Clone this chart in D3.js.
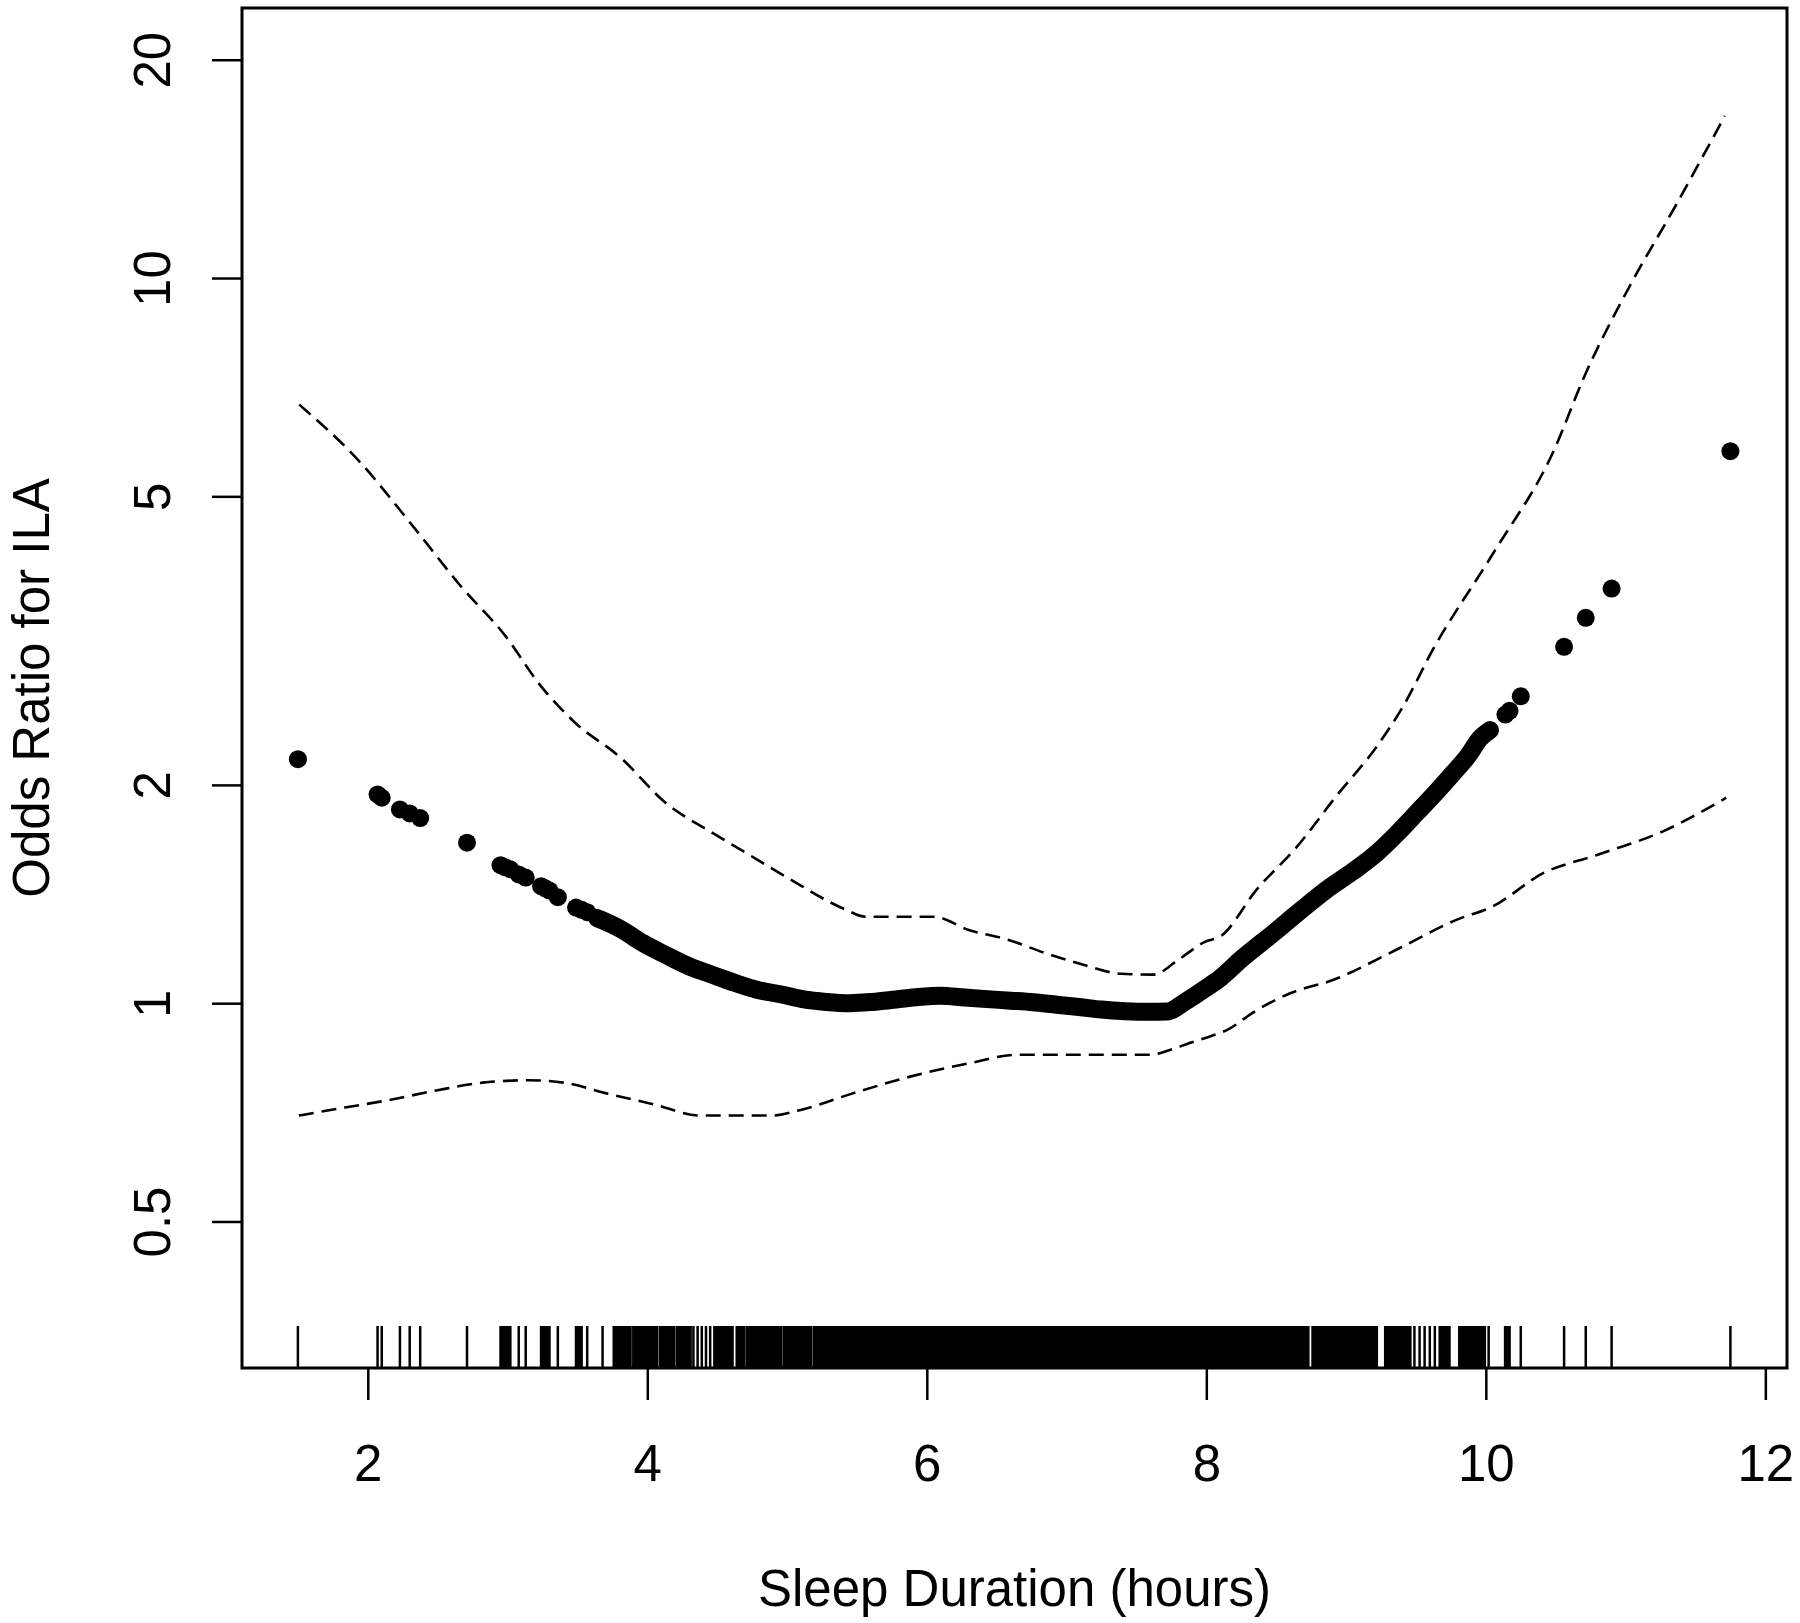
<!DOCTYPE html>
<html>
<head>
<meta charset="utf-8">
<script src="https://cdn.jsdelivr.net/npm/d3@7"></script>
<style>
  body { margin: 0; background: #fff; }
  svg { display: block; font-family: "Liberation Sans", Arial, sans-serif; }
</style>
</head>
<body>
<div class="chart"></div>
<script>
// chart size and plot box
const width = 1800;
const height = 1623;
const margin = { top: 8, right: 13, bottom: 255, left: 242 };

// axis limits and ticks
const xLimits = [1.1, 12.155];
const yLimits = [0.314, 23.57];
const xTicks = [2, 4, 6, 8, 10, 12];
const yTicks = [0.5, 1, 2, 5, 10, 20];

// rug: single observed sleep durations and solid stretches
const rugTicks = [1.5, 2.07, 2.1, 2.23, 2.3, 2.375, 2.71, 3.08, 3.13, 3.36, 3.57, 3.68,
  4.33, 4.36, 4.39, 4.42, 4.45, 9.489, 9.526, 9.562, 9.599, 9.635,
  10.02, 10.25, 10.56, 10.715, 10.9, 11.75];
const rugSpans = [[2.95, 3.02], [3.24, 3.30], [3.49, 3.53], [3.76, 3.88], [3.90, 4.07],
  [4.09, 4.19], [4.21, 4.31], [4.48, 4.61], [4.64, 4.69], [4.71, 4.96], [4.98, 5.17],
  [5.19, 8.73], [8.76, 9.22], [9.28, 9.46], [9.67, 9.74], [9.81, 9.875],
  [9.883, 9.993], [10.138, 10.17]];

// odds ratio: isolated points
const pointX  = [1.5, 2.07, 2.1, 2.23, 2.3, 2.375, 2.71, 2.95, 2.98, 3.02, 3.08, 3.13,
  3.24, 3.27, 3.30, 3.36, 3.49, 3.53, 3.57,
  10.14, 10.17, 10.25, 10.56, 10.715, 10.9, 11.75];
const pointOR = [2.17, 1.94, 1.92, 1.85, 1.827, 1.80, 1.665, 1.55, 1.54, 1.53, 1.505, 1.49,
  1.45, 1.44, 1.43, 1.40, 1.355, 1.345, 1.335,
  2.50, 2.53, 2.65, 3.10, 3.40, 3.73, 5.77];

// odds ratio: dense run of points (reads as a thick band)
const bandX  = [3.64, 3.74, 3.81, 3.97, 4.13, 4.30, 4.46, 4.63, 4.79, 4.96, 5.12, 5.28, 5.45,
  5.61, 5.78, 5.94, 6.10, 6.27, 6.43, 6.60, 6.76, 6.93, 7.09, 7.25, 7.42, 7.58, 7.72,
  7.85, 8.00, 8.10, 8.25, 8.48, 8.67, 8.86, 9.05, 9.22, 9.36, 9.505, 9.64, 9.77, 9.87, 9.96, 10.03];
const bandOR = [1.31, 1.285, 1.265, 1.21, 1.166, 1.124, 1.095, 1.066, 1.043, 1.028, 1.012, 1.004, 1.0,
  1.004, 1.012, 1.02, 1.024, 1.018, 1.013, 1.008, 1.003, 0.995, 0.988, 0.98, 0.975, 0.973, 0.974,
  1.005, 1.05, 1.083, 1.15, 1.249, 1.34, 1.434, 1.52, 1.611, 1.71, 1.83, 1.95, 2.08, 2.19, 2.32, 2.38];

// 95% confidence limits
const upperX  = [1.51, 1.92, 2.33, 2.66, 2.99, 3.23, 3.48, 3.81, 4.13, 4.46, 4.71, 5.01,
  5.42, 5.56, 6.05, 6.30, 6.58, 6.85, 7.12, 7.39, 7.62, 7.80, 7.99, 8.10, 8.36, 8.65,
  8.93, 9.22, 9.41, 9.62, 10.045, 10.49, 10.70, 11.03, 11.36, 11.71];
const upperOR = [6.69, 5.64, 4.53, 3.77, 3.20, 2.75, 2.44, 2.18, 1.89, 1.72, 1.61, 1.487,
  1.346, 1.316, 1.316, 1.262, 1.223, 1.172, 1.13, 1.098, 1.095, 1.148, 1.215, 1.236, 1.434, 1.645,
  1.93, 2.26, 2.57, 3.07, 4.15, 5.80, 7.28, 9.75, 12.6, 16.73];
const lowerX  = [1.507, 1.836, 2.164, 2.49, 2.82, 3.15, 3.40, 3.72, 4.05, 4.38, 4.90, 5.09,
  5.47, 5.88, 6.30, 6.65, 7.60, 7.74, 7.88, 8.02, 8.15, 8.35, 8.60, 8.91, 9.36, 9.79,
  10.05, 10.41, 10.79, 11.28, 11.72];
const lowerOR = [0.70, 0.718, 0.736, 0.758, 0.777, 0.783, 0.777, 0.75, 0.725, 0.70, 0.70, 0.712,
  0.751, 0.792, 0.826, 0.849, 0.849, 0.862, 0.881, 0.899, 0.919, 0.975, 1.032, 1.077, 1.185, 1.303,
  1.36, 1.511, 1.60, 1.73, 1.92];

const fontSize = 51;

const svg = d3.select('.chart')
  .append('svg')
  .attr('width', width)
  .attr('height', height);

const x = d3.scaleLinear()
  .domain(xLimits)
  .range([margin.left, width - margin.right]);

const y = d3.scaleLog()
  .domain(yLimits)
  .range([height - margin.bottom, margin.top]);

const zip = (xs, ys) => xs.map((d, i) => [d, ys[i]]);

const line = d3.line()
  .x(d => x(d[0]))
  .y(d => y(d[1]))
  .curve(d3.curveMonotoneX);

// confidence limits (dashed)
svg.append('g')
  .selectAll('path')
  .data([zip(upperX, upperOR), zip(lowerX, lowerOR)])
  .join('path')
    .attr('d', line)
    .attr('fill', 'none')
    .attr('stroke', '#000')
    .attr('stroke-width', 2.6)
    .attr('stroke-dasharray', '15,8');

// dense points as a thick band
svg.append('path')
  .datum(zip(bandX, bandOR))
  .attr('d', line)
  .attr('fill', 'none')
  .attr('stroke', '#000')
  .attr('stroke-width', 18)
  .attr('stroke-linecap', 'round')
  .attr('stroke-linejoin', 'round');

// isolated points
svg.append('g')
  .selectAll('circle')
  .data(zip(pointX, pointOR))
  .join('circle')
    .attr('cx', d => x(d[0]))
    .attr('cy', d => y(d[1]))
    .attr('r', 9)
    .attr('fill', '#000');

// rug
const rugTop = height - margin.bottom - 42;
const rug = svg.append('g');
rug.selectAll('line')
  .data(rugTicks)
  .join('line')
    .attr('x1', d => x(d))
    .attr('x2', d => x(d))
    .attr('y1', height - margin.bottom)
    .attr('y2', rugTop)
    .attr('stroke', '#000')
    .attr('stroke-width', 2.5);
rug.selectAll('rect')
  .data(rugSpans)
  .join('rect')
    .attr('x', d => x(d[0]) - 1.25)
    .attr('width', d => x(d[1]) - x(d[0]) + 2.5)
    .attr('y', rugTop)
    .attr('height', height - margin.bottom - rugTop)
    .attr('fill', '#000');

// axes
const xAxis = svg.append('g')
  .attr('transform', `translate(0, ${height - margin.bottom})`)
  .call(d3.axisBottom(x).tickValues(xTicks).tickSize(32).tickFormat(d3.format('')))
  .call(g => g.select('.domain').remove())
  .attr('font-family', null);
xAxis.selectAll('line').attr('stroke-width', 2.5);
xAxis.selectAll('text')
  .attr('y', 113)
  .attr('dy', null)
  .style('font-size', fontSize + 'px')
  .attr('fill', '#000');

const yAxis = svg.append('g')
  .attr('transform', `translate(${margin.left}, 0)`)
  .call(d3.axisLeft(y).tickValues(yTicks).tickSize(30).tickFormat(d3.format('')))
  .call(g => g.select('.domain').remove())
  .attr('font-family', null);
yAxis.selectAll('line').attr('stroke-width', 2.5);
yAxis.selectAll('text')
  .attr('x', null)
  .attr('dy', null)
  .attr('text-anchor', 'middle')
  .attr('transform', 'translate(-72, 0) rotate(-90)')
  .style('font-size', fontSize + 'px')
  .attr('fill', '#000');

// box
svg.append('rect')
  .attr('x', margin.left)
  .attr('y', margin.top)
  .attr('width', width - margin.left - margin.right)
  .attr('height', height - margin.top - margin.bottom)
  .attr('fill', 'none')
  .attr('stroke', '#000')
  .attr('stroke-width', 3);

// axis titles
svg.append('text')
  .attr('x', (margin.left + width - margin.right) / 2)
  .attr('y', 1606)
  .attr('text-anchor', 'middle')
  .style('font-size', fontSize + 'px')
  .text('Sleep Duration (hours)');

svg.append('text')
  .attr('transform', `translate(49, ${(margin.top + height - margin.bottom) / 2}) rotate(-90)`)
  .attr('text-anchor', 'middle')
  .style('font-size', fontSize + 'px')
  .text('Odds Ratio for ILA');
</script>
</body>
</html>
